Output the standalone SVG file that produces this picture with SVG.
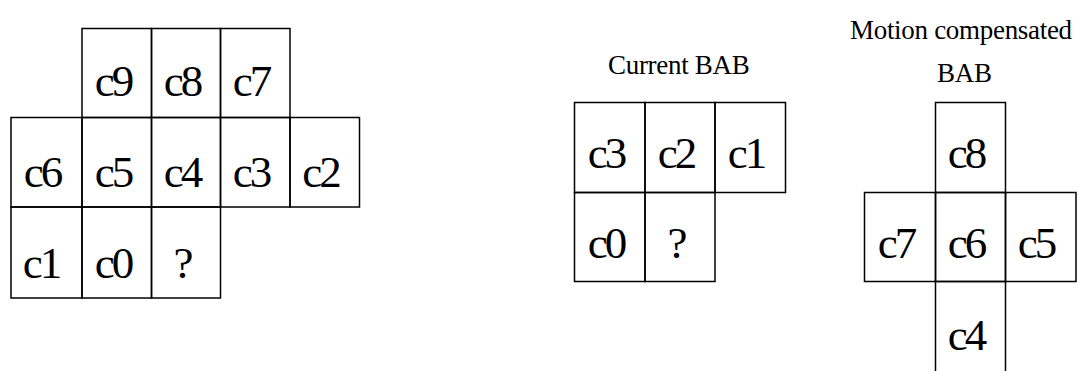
<svg xmlns="http://www.w3.org/2000/svg" width="1085" height="371" viewBox="0 0 1085 371">
<style>
.cell{fill:none;stroke:#000;stroke-width:1.5}
.lbl{font-family:"Liberation Serif","Times New Roman",serif;font-size:45px;fill:#000;text-anchor:middle;letter-spacing:-3px}
.ttl{font-family:"Liberation Serif","Times New Roman",serif;font-size:27px;fill:#000;letter-spacing:-0.3px}
</style>
<rect width="1085" height="371" fill="#fff"/>
<g id="left-grid">
<g id="L-c9"><rect class="cell" x="82" y="28.5" width="69.5" height="89"/><text class="lbl" x="113" y="96">c9</text></g>
<g id="L-c8"><rect class="cell" x="151.5" y="28.5" width="69" height="89"/><text class="lbl" x="182" y="96">c8</text></g>
<g id="L-c7"><rect class="cell" x="220.5" y="28.5" width="69.5" height="89"/><text class="lbl" x="251" y="96">c7</text></g>
<g id="L-c6"><rect class="cell" x="11" y="117.5" width="71" height="89.5"/><text class="lbl" x="42" y="187">c6</text></g>
<g id="L-c5"><rect class="cell" x="82" y="117.5" width="69.5" height="89.5"/><text class="lbl" x="113" y="187">c5</text></g>
<g id="L-c4"><rect class="cell" x="151.5" y="117.5" width="69" height="89.5"/><text class="lbl" x="182" y="187">c4</text></g>
<g id="L-c3"><rect class="cell" x="220.5" y="117.5" width="69.5" height="89.5"/><text class="lbl" x="251" y="187">c3</text></g>
<g id="L-c2"><rect class="cell" x="290" y="117.5" width="69.5" height="89.5"/><text class="lbl" x="320.5" y="187">c2</text></g>
<g id="L-c1"><rect class="cell" x="11" y="207" width="71" height="91"/><text class="lbl" x="41" y="278">c1</text></g>
<g id="L-c0"><rect class="cell" x="82" y="207" width="69.5" height="91"/><text class="lbl" x="113" y="278">c0</text></g>
<g id="L-q"><rect class="cell" x="151.5" y="207" width="69" height="91"/><text class="lbl" x="182" y="278">?</text></g>
</g>
<g id="current-bab">
<text id="title-current" class="ttl" x="608" y="74">Current BAB</text>
<g id="C-c3"><rect class="cell" x="574.5" y="102.5" width="70.5" height="90"/><text class="lbl" x="606" y="168">c3</text></g>
<g id="C-c2"><rect class="cell" x="645" y="102.5" width="70" height="90"/><text class="lbl" x="676" y="168">c2</text></g>
<g id="C-c1"><rect class="cell" x="715" y="102.5" width="70.5" height="90"/><text class="lbl" x="746" y="168">c1</text></g>
<g id="C-c0"><rect class="cell" x="574.5" y="192.5" width="70.5" height="89"/><text class="lbl" x="606" y="258">c0</text></g>
<g id="C-q"><rect class="cell" x="645" y="192.5" width="70" height="89"/><text class="lbl" x="676" y="258">?</text></g>
</g>
<g id="motion-bab">
<text id="title-motion" class="ttl" x="850" y="39">Motion compensated</text>
<text id="title-motion-2" class="ttl" x="937" y="81.5">BAB</text>
<g id="M-c8"><rect class="cell" x="935.5" y="102.5" width="70" height="90"/><text class="lbl" x="966" y="168">c8</text></g>
<g id="M-c7"><rect class="cell" x="864.5" y="192.5" width="71" height="89"/><text class="lbl" x="896" y="258">c7</text></g>
<g id="M-c6"><rect class="cell" x="935.5" y="192.5" width="70" height="89"/><text class="lbl" x="966" y="258">c6</text></g>
<g id="M-c5"><rect class="cell" x="1005.5" y="192.5" width="70.5" height="89"/><text class="lbl" x="1036" y="258">c5</text></g>
<g id="M-c4"><rect class="cell" x="935.5" y="281.5" width="70" height="95"/><text class="lbl" x="966" y="350">c4</text></g>
</g>
<g id="connectors"/>
</svg>
